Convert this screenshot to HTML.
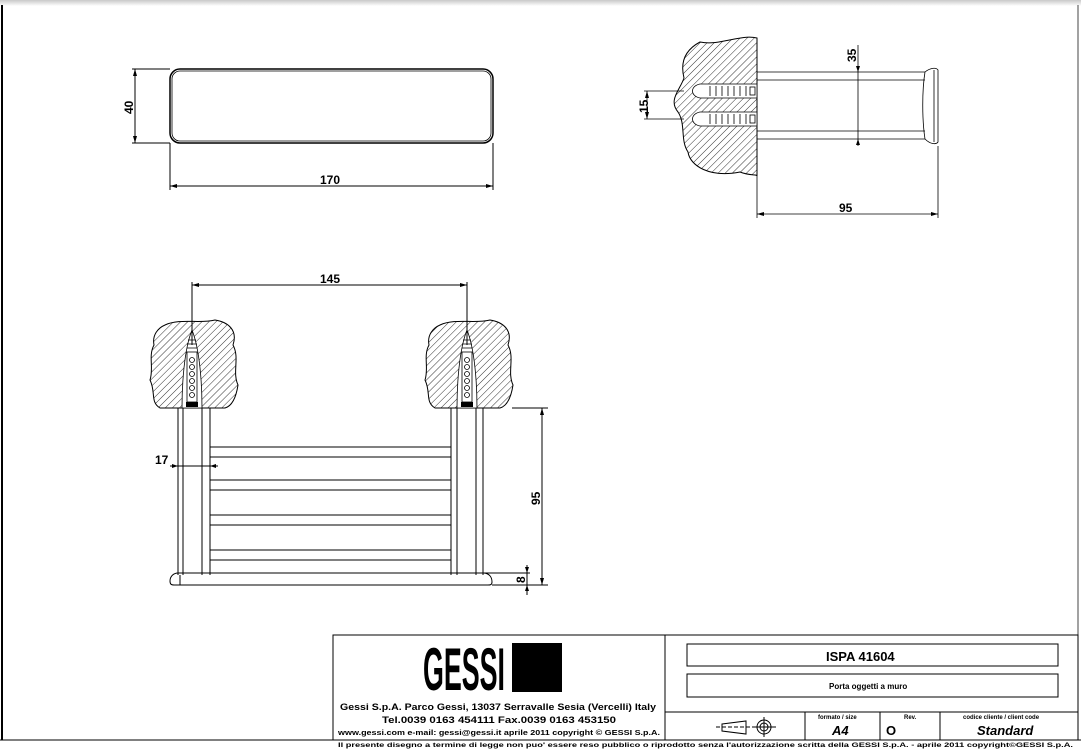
<!DOCTYPE html>
<html><head><meta charset="utf-8"><style>
html,body{margin:0;padding:0;background:#fff;}
svg{display:block;}
text{font-family:"Liberation Sans",sans-serif;font-weight:bold;fill:#000;}
</style></head><body>
<svg width="1081" height="749" viewBox="0 0 1081 749" xmlns="http://www.w3.org/2000/svg">
<defs>
<pattern id="h" patternUnits="userSpaceOnUse" width="5" height="5" patternTransform="rotate(45)">
<rect width="5" height="5" fill="#fff"/><line x1="0" y1="0" x2="0" y2="5" stroke="#333" stroke-width="1"/>
</pattern>
<linearGradient id="tg" x1="0" y1="0" x2="0" y2="1"><stop offset="0" stop-color="#c8c8c8"/><stop offset="1" stop-color="#fff"/></linearGradient>
</defs>
<rect x="0" y="0" width="1081" height="6" fill="url(#tg)"/>
<line x1="2" y1="5" x2="2" y2="740" stroke="#000" stroke-width="2"/>
<line x1="1078" y1="5" x2="1078" y2="740" stroke="#444" stroke-width="1"/>

<g fill="none" stroke="#000" stroke-width="1">
<!-- top-left view -->
<rect x="170" y="69" width="323" height="74" rx="10" stroke-width="1.5"/>
<rect x="172" y="71" width="319" height="70" rx="8" stroke-width="0.8"/>
<line x1="132" y1="69" x2="170" y2="69"/><line x1="132" y1="143" x2="170" y2="143"/>
<line x1="135" y1="69" x2="135" y2="143"/>
<line x1="170" y1="143" x2="170" y2="190"/><line x1="493" y1="143" x2="493" y2="190"/>
<line x1="170" y1="186" x2="493" y2="186"/>
</g>
<g fill="#000">
<path d="M135 69 l-2 7 h4z M135 143 l-2 -7 h4z M170 186 l7 -2 v4z M493 186 l-7 -2 v4z"/>
</g>
<text x="0" y="0" font-size="12" transform="translate(133,114) rotate(-90)">40</text>
<text x="320" y="184" font-size="12">170</text>

<!-- top-right view -->
<path d="M757 38 C740 34 720 46 700 42 C685 50 680 62 684 78 C680 90 668 100 678 112 C686 124 680 140 688 152 C690 166 710 178 740 172 C750 176 757 174 757 176 Z" fill="url(#h)" stroke="#000" stroke-width="1"/>
<g fill="#fff" stroke="#000" stroke-width="0.8">
<path d="M757 84 L700 84 C690 86 690 96 700 98 L757 98 Z"/>
<path d="M757 112 L700 112 C690 114 690 124 700 126 L757 126 Z"/>
</g>
<g stroke="#000" stroke-width="0.8" fill="none">
<path d="M710 86 v10 M716 86 v10 M722 86 v10 M728 86 v10 M734 86 v10 M740 86 v10 M746 86 v10"/>
<path d="M710 114 v10 M716 114 v10 M722 114 v10 M728 114 v10 M734 114 v10 M740 114 v10 M746 114 v10"/>
<rect x="750" y="87" width="5" height="8"/><rect x="750" y="115" width="5" height="8"/>
<line x1="757" y1="72" x2="925" y2="72"/><line x1="757" y1="80" x2="925" y2="80"/>
<line x1="757" y1="131" x2="925" y2="131"/><line x1="757" y1="139" x2="925" y2="139"/>
<path d="M925 72 C930 68 936 67 938 70 L938 142 C936 145 930 144 925 139 C922 120 922 90 925 72 Z"/>
<line x1="934" y1="70" x2="934" y2="142"/>
<line x1="858" y1="45" x2="858" y2="146"/>
<line x1="647" y1="91" x2="647" y2="119"/>
<line x1="644" y1="91" x2="684" y2="91"/><line x1="644" y1="119" x2="684" y2="119"/>
<line x1="757" y1="176" x2="757" y2="218"/><line x1="938" y1="146" x2="938" y2="218"/>
<line x1="757" y1="214" x2="938" y2="214"/>
</g>
<g fill="#000">
<path d="M858 72 l-2 -6 h4z M858 139 l-2 6 h4z M647 91 l-2 7 h4z M647 119 l-2 -7 h4z M757 214 l7 -2 v4z M938 214 l-7 -2 v4z"/>
</g>
<text font-size="12" transform="translate(856,62) rotate(-90)">35</text>
<text font-size="12" transform="translate(648,113) rotate(-90)">15</text>
<text x="839" y="212" font-size="12">95</text>

<!-- bottom view walls -->
<path d="M165 325 C180 318 200 324 215 320 C228 322 238 330 233 345 C240 358 232 372 238 385 C236 398 232 406 225 408 L160 408 C150 402 156 392 150 380 C154 368 148 356 154 345 C152 335 158 328 165 325 Z" fill="url(#h)" stroke="#000"/>
<path d="M440 325 C455 318 475 324 490 320 C503 322 513 330 508 345 C515 358 507 372 513 385 C511 398 507 406 500 408 L435 408 C425 402 431 392 425 380 C429 368 423 356 429 345 C427 335 433 328 440 325 Z" fill="url(#h)" stroke="#000"/>
<g fill="#fff" stroke="#000" stroke-width="0.8">
<path d="M192 330 C184 350 182 385 182 408 L202 408 C202 385 200 350 192 330 Z"/>
<path d="M467 330 C459 350 457 385 457 408 L477 408 C477 385 475 350 467 330 Z"/>
</g>
<g stroke="#000" stroke-width="0.8" fill="none">
<path d="M188 340 h8 M187 344 h10 M187 348 h10"/>
<path d="M463 340 h8 M462 344 h10 M462 348 h10"/>
<rect x="187" y="352" width="10" height="50"/><rect x="462" y="352" width="10" height="50"/>
<circle cx="192" cy="360" r="2.5"/><circle cx="192" cy="367" r="2.5"/><circle cx="192" cy="374" r="2.5"/><circle cx="192" cy="381" r="2.5"/><circle cx="192" cy="388" r="2.5"/><circle cx="192" cy="395" r="2.5"/>
<circle cx="467" cy="360" r="2.5"/><circle cx="467" cy="367" r="2.5"/><circle cx="467" cy="374" r="2.5"/><circle cx="467" cy="381" r="2.5"/><circle cx="467" cy="388" r="2.5"/><circle cx="467" cy="395" r="2.5"/>
</g>
<rect x="186" y="402" width="12" height="5" fill="#000"/><rect x="461" y="402" width="12" height="5" fill="#000"/>
<g stroke="#000" stroke-width="1" fill="none">
<line x1="178" y1="408" x2="178" y2="575"/><line x1="183" y1="408" x2="183" y2="575"/>
<line x1="202" y1="408" x2="202" y2="575"/><line x1="210" y1="408" x2="210" y2="575"/>
<line x1="451" y1="408" x2="451" y2="575"/><line x1="457" y1="408" x2="457" y2="575"/>
<line x1="476" y1="408" x2="476" y2="575"/><line x1="483" y1="408" x2="483" y2="575"/>
<line x1="210" y1="447" x2="451" y2="447"/><line x1="210" y1="457" x2="451" y2="457"/>
<line x1="210" y1="480" x2="451" y2="480"/><line x1="210" y1="490" x2="451" y2="490"/>
<line x1="210" y1="515" x2="451" y2="515"/><line x1="210" y1="525" x2="451" y2="525"/>
<line x1="210" y1="550" x2="451" y2="550"/><line x1="210" y1="560" x2="451" y2="560"/>
<path d="M178 573 L483 573 C490 573 492 578 492 582 C492 585 490 585 488 585 L174 585 C171 585 170 584 170 581 C170 576 174 573 178 573 Z"/>
<line x1="180" y1="575" x2="180" y2="585"/>
<line x1="192" y1="282" x2="192" y2="345"/><line x1="467" y1="282" x2="467" y2="345"/>
<line x1="192" y1="285" x2="467" y2="285"/>
<line x1="512" y1="408" x2="548" y2="408"/><line x1="492" y1="585" x2="548" y2="585"/>
<line x1="483" y1="573" x2="530" y2="573"/>
<line x1="542" y1="408" x2="542" y2="585"/>
<line x1="527" y1="565" x2="527" y2="595"/>
<line x1="170" y1="466" x2="218" y2="466"/>
</g>
<g fill="#000">
<path d="M192 285 l7 -2 v4z M467 285 l-7 -2 v4z M542 408 l-2 7 h4z M542 585 l-2 -7 h4z M527 573 l-2 -6 h4z M527 585 l-2 6 h4z M178 466 l-6 -2 v4z M210 466 l6 -2 v4z"/>
</g>
<text x="320" y="283" font-size="12">145</text>
<text x="155" y="464" font-size="12">17</text>
<text font-size="12" transform="translate(540,505) rotate(-90)">95</text>
<text font-size="12" transform="translate(525,583) rotate(-90)">8</text>

<!-- title block -->
<g fill="none" stroke="#000" stroke-width="1">
<rect x="333" y="635" width="745" height="105"/>
<line x1="665" y1="635" x2="665" y2="740"/>
<line x1="665" y1="712" x2="1078" y2="712"/>
<line x1="805" y1="712" x2="805" y2="740"/>
<line x1="880" y1="712" x2="880" y2="740"/>
<line x1="940" y1="712" x2="940" y2="740"/>
<rect x="687" y="644" width="371" height="22"/>
<rect x="687" y="674" width="371" height="23"/>
<line x1="0" y1="740" x2="1081" y2="740"/>
<path d="M722 724 L746 721 L746 734 L722 731 Z"/>
<line x1="716" y1="727" x2="752" y2="727" stroke-dasharray="4 2"/>
<circle cx="764" cy="727" r="7"/><circle cx="764" cy="727" r="4"/>
<line x1="752" y1="727" x2="776" y2="727"/><line x1="764" y1="717" x2="764" y2="737"/>
</g>
<text x="423" y="690" font-size="60" textLength="82" lengthAdjust="spacingAndGlyphs">GESSI</text>
<rect x="512" y="643" width="50" height="49" fill="#000"/>
<text x="340" y="710" font-size="9.5" textLength="316" lengthAdjust="spacingAndGlyphs">Gessi S.p.A. Parco Gessi, 13037 Serravalle Sesia (Vercelli) Italy</text>
<text x="382" y="723" font-size="9.5" textLength="234" lengthAdjust="spacingAndGlyphs">Tel.0039 0163 454111 Fax.0039 0163 453150</text>
<text x="338" y="735" font-size="7" textLength="322" lengthAdjust="spacingAndGlyphs">www.gessi.com e-mail: gessi@gessi.it     aprile 2011    copyright © GESSI S.p.A.</text>
<text x="826" y="661" font-size="13">ISPA 41604</text>
<text x="829" y="689" font-size="8">Porta oggetti a muro</text>
<text x="818" y="719" font-size="6">formato / size</text>
<text x="904" y="719" font-size="6">Rev.</text>
<text x="963" y="719" font-size="6">codice cliente / client code</text>
<text x="832" y="735" font-size="13" font-style="italic" font-weight="normal">A4</text>
<text x="886" y="735" font-size="13">O</text>
<text x="977" y="735" font-size="13" font-style="italic" font-weight="normal">Standard</text>
<text x="338" y="747" font-size="6.5" textLength="735" lengthAdjust="spacingAndGlyphs">Il presente disegno a termine di legge non puo' essere reso pubblico o riprodotto senza l'autorizzazione scritta della GESSI S.p.A. - aprile 2011 copyright©GESSI S.p.A.</text>
</svg>
</body></html>
